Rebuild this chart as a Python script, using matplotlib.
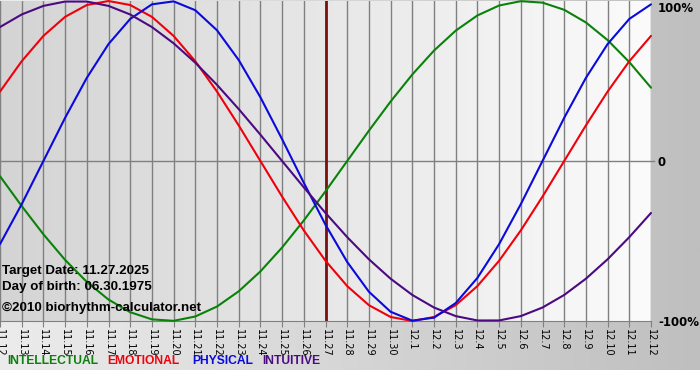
import numpy as np
import matplotlib
matplotlib.use("Agg")
import matplotlib.pyplot as plt
from matplotlib.colors import LinearSegmentedColormap

# ---------------- data ----------------
dates = ["11.12", "11.13", "11.14", "11.15", "11.16", "11.17", "11.18", "11.19",
         "11.20", "11.21", "11.22", "11.23", "11.24", "11.25", "11.26", "11.27",
         "11.28", "11.29", "11.30", "12.1", "12.2", "12.3", "12.4", "12.5",
         "12.6", "12.7", "12.8", "12.9", "12.10", "12.11", "12.12"]

physical = [-0.5196, -0.2698, 0.0, 0.2698, 0.5196, 0.7308, 0.8879, 0.9791,
            0.9977, 0.9423, 0.8170, 0.6311, 0.3984, 0.1362, -0.1362, -0.3984,
            -0.6311, -0.8170, -0.9423, -0.9977, -0.9791, -0.8879, -0.7308, -0.5196,
            -0.2698, 0.0, 0.2698, 0.5196, 0.7308, 0.8879, 0.9791]

emotional = [0.4339, 0.6235, 0.7818, 0.9010, 0.9749, 1.0, 0.9749, 0.9010,
             0.7818, 0.6235, 0.4339, 0.2225, 0.0, -0.2225, -0.4339, -0.6235,
             -0.7818, -0.9010, -0.9749, -1.0, -0.9749, -0.9010, -0.7818, -0.6235,
             -0.4339, -0.2225, 0.0, 0.2225, 0.4339, 0.6235, 0.7818]

intellectual = [-0.0951, -0.2817, -0.4582, -0.6182, -0.7557, -0.8660, -0.9450, -0.9898,
                -0.9989, -0.9718, -0.9096, -0.8146, -0.6901, -0.5406, -0.3717, -0.1893,
                0.0, 0.1893, 0.3717, 0.5406, 0.6901, 0.8146, 0.9096, 0.9718,
                0.9989, 0.9898, 0.9450, 0.8660, 0.7557, 0.6182, 0.4582]

intuitive = [0.8372, 0.9158, 0.9694, 0.9966, 0.9966, 0.9694, 0.9158, 0.8372,
             0.7357, 0.6142, 0.4759, 0.3247, 0.1646, 0.0, -0.1646, -0.3247,
             -0.4759, -0.6142, -0.7357, -0.8372, -0.9158, -0.9694, -0.9966, -0.9966,
             -0.9694, -0.9158, -0.8372, -0.7357, -0.6142, -0.4759, -0.3247]

target_date = "11.27"
y_labels = ["-100%", "0", "100%"]
y_values = [-1.0, 0.0, 1.0]
info_lines = ["Target Date: 11.27.2025", "Day of birth: 06.30.1975",
              "\u00a92010 biorhythm-calculator.net"]
legend_names = ["INTELLECTUAL", "EMOTIONAL", "PHYSICAL", "INTUITIVE"]

# ---------------- style ----------------
C_INT = "#0a820a"
C_EMO = "#f0000a"
C_PHY = "#0a0adc"
C_ITU = "#4b0a82"
C_TGT = "#7a1010"
GRID = "#808080"

W, H = 700, 380
fig = plt.figure(figsize=(W / 100, H / 100), dpi=100)
fig.patch.set_facecolor("white")

# outer background gradient
bg = fig.add_axes([0, 10 / H, 1, 1 - 10 / H], zorder=0)
bg.axis("off")
outer_cmap = LinearSegmentedColormap.from_list("o", ["#ececec", "#bfbfbf"])
bg.imshow(np.linspace(0, 1, 256)[None, :], aspect="auto", cmap=outer_cmap,
          extent=[0, 1, 0, 1])
bg.set_xlim(0, 1)
bg.set_ylim(0, 1)

x = np.arange(len(dates))
left, right = 0, 651 / W
top, bottom = 1 - 1 / H, 1 - 321 / H
ax = fig.add_axes([left, bottom, right - left, top - bottom], zorder=1)
ax.set_facecolor("none")
plot_cmap = LinearSegmentedColormap.from_list("p", ["#d4d4d4", "#fbfbfb"])
ax.imshow(np.linspace(0, 1, 256)[None, :], aspect="auto", cmap=plot_cmap,
          extent=[0, len(dates) - 1, -1, 1], zorder=0)
ax.set_xlim(0, len(dates) - 1)
ax.set_ylim(-1, 1)

for xi in x:
    ax.axvline(xi, color=GRID, lw=1.0, zorder=1)
ax.axhline(0, color=GRID, lw=1.0, zorder=1)

ti = dates.index(target_date)
ax.axvline(x[ti], color=C_TGT, lw=2.0, zorder=2)

kw = dict(lw=1.5, solid_capstyle="round", solid_joinstyle="round",
          clip_on=False, zorder=3)
ax.plot(x, intellectual, color=C_INT, **kw)
ax.plot(x, emotional, color=C_EMO, **kw)
ax.plot(x, physical, color=C_PHY, **kw)
ax.plot(x, intuitive, color=C_ITU, **kw)

for s in ["left", "top", "right"]:
    ax.spines[s].set_visible(False)
ax.spines["bottom"].set_color(GRID)
ax.set_yticks([])
ax.set_xticks(x)
ax.set_xticklabels(dates, rotation=-90, fontsize=7, family="DejaVu Sans")
ax.tick_params(axis="x", length=4, color=GRID, pad=2)

# small extension of zero line
ax.plot([1.0, 1.0 + 3 / 651], [0.5, 0.5], transform=ax.transAxes,
        color=GRID, lw=1.0, clip_on=False)

# right-hand labels (pixel positions)
label_pos = {"100%": 8, "0": 162, "-100%": 322}
for v, lab in zip(y_values, y_labels):
    fig.text(658 / W, 1 - label_pos[lab] / H, lab, ha="left", va="center",
             fontsize=8.5, fontweight="bold", family="DejaVu Sans", zorder=5)

# info texts
info_y = [271, 287, 308]
for t, yy in zip(info_lines, info_y):
    fig.text(2 / W, 1 - yy / H, t, ha="left", va="center", fontsize=9.6,
             fontweight="bold", family="Liberation Sans", zorder=5)

# legend text
legend_colors = [C_INT, C_EMO, C_PHY, C_ITU]
legend_x = [7, 107, 192, 262]
for name, c, lx in zip(legend_names, legend_colors, legend_x):
    fig.text(lx / W, 1 - 361 / H, name, color=c, ha="left", va="center",
             fontsize=8.7, fontweight="bold", family="Liberation Sans", zorder=5)

fig.savefig("out.png", dpi=100)
